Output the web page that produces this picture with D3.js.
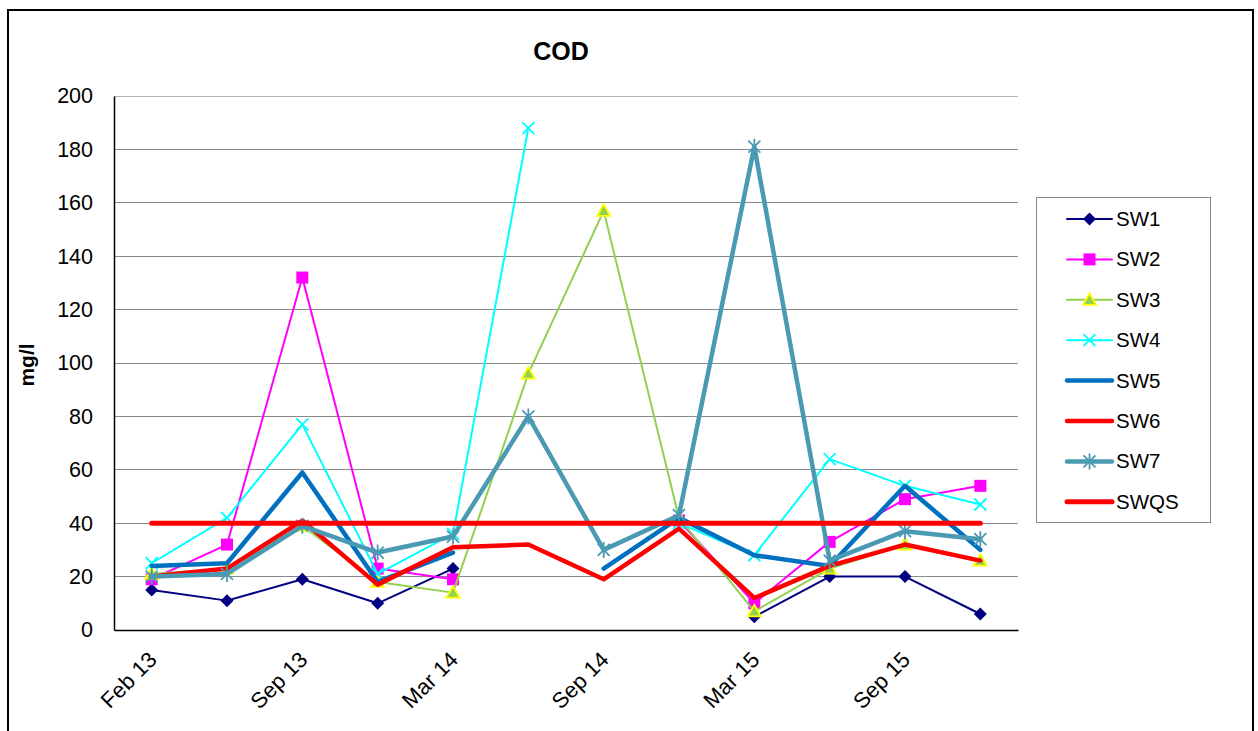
<!DOCTYPE html>
<html>
<head>
<meta charset="utf-8">
<script src="https://cdn.jsdelivr.net/npm/d3@7"></script>
<style>
  html, body { margin: 0; padding: 0; background: #fff; }
  svg { display: block; font-family: "Liberation Sans", Arial, Helvetica, sans-serif; }
</style>
</head>
<body>
<svg id="chart" width="1258" height="731"></svg>
<script>
// Sampling dates (quarterly), only every other one is labelled on the axis
const categories = ["Feb 13", "May 13", "Sep 13", "Dec 13", "Mar 14", "Jun 14",
                    "Sep 14", "Dec 14", "Mar 15", "Jun 15", "Sep 15", "Dec 15"];
const tickLabels = ["Feb 13", "Sep 13", "Mar 14", "Sep 14", "Mar 15", "Sep 15"];
const yTicks = [0, 20, 40, 60, 80, 100, 120, 140, 160, 180, 200];

// COD readings (mg/l) per station; null = no sample
const sw1  = [15, 11, 19, 10, 23, null, null, null, 5, 20, 20, 6];
const sw2  = [19, 32, 132, 23, 19, null, null, 41, 10, 33, 49, 54];
const sw3  = [21, 23, 39, 18, 14, 96, 157, 42, 7, 23, 32, 26];
const sw4  = [25, 42, 77, 21, 36, 188, null, 40, 28, 64, 54, 47];
const sw5  = [24, 25, 59, 18, 29, null, 23, 42, 28, 24, 54, 30];
const sw6  = [20, 23, 41, 17, 31, 32, 19, 38, 12, 24, 32, 26];
const sw7  = [20, 21, 39, 29, 35, 80, 30, 43, 181, 26, 37, 34];
const swqs = [40, 40, 40, 40, 40, 40, 40, 40, 40, 40, 40, 40];

const series = [
  { name: "SW1",  values: sw1,  color: "#000080", width: 2,   marker: "diamond" },
  { name: "SW2",  values: sw2,  color: "#FF00FF", width: 2,   marker: "square" },
  { name: "SW3",  values: sw3,  color: "#92D050", width: 2,   marker: "triangle" },
  { name: "SW4",  values: sw4,  color: "#00FFFF", width: 2,   marker: "x" },
  { name: "SW5",  values: sw5,  color: "#0070C0", width: 4.5, marker: null },
  { name: "SW6",  values: sw6,  color: "#FF0000", width: 4.5, marker: null },
  { name: "SW7",  values: sw7,  color: "#4A9AB3", width: 4.5, marker: "asterisk" },
  { name: "SWQS", values: swqs, color: "#FF0000", width: 5,   marker: null }
];

const svg = d3.select("#chart");

// outer chart frame
svg.append("rect")
  .attr("x", 8).attr("y", 10).attr("width", 1245).attr("height", 740)
  .attr("fill", "none").attr("stroke", "#000").attr("stroke-width", 2);

const plot = { left: 114, right: 1018, top: 96, bottom: 630 };

const x = d3.scalePoint().domain(categories)
  .range([plot.left, plot.right]).padding(0.5);
const y = d3.scaleLinear().domain([0, 200]).range([plot.bottom, plot.top]);

// horizontal gridlines
svg.append("g").selectAll("line").data(yTicks.filter(t => t > 0)).join("line")
  .attr("x1", plot.left).attr("x2", plot.right)
  .attr("y1", d => y(d)).attr("y2", d => y(d))
  .attr("stroke", d => d === 200 ? "#b4b4b4" : "#8a8a8a").attr("stroke-width", 1)
  .attr("shape-rendering", "crispEdges");

// y axis
const yAxis = svg.append("g")
  .attr("transform", `translate(${plot.left},0)`)
  .call(d3.axisLeft(y).tickValues(yTicks).tickSize(0).tickPadding(21));
yAxis.select(".domain").attr("stroke", "#000").attr("stroke-width", 1.5);
yAxis.selectAll("text").attr("font-size", 21.5).attr("fill", "#000")
  .attr("font-family", "Liberation Sans, Arial, sans-serif");

// x axis
const xAxis = svg.append("g")
  .attr("transform", `translate(0,${plot.bottom})`)
  .call(d3.axisBottom(x).tickSize(0).tickFormat(d => tickLabels.includes(d) ? d : ""));
xAxis.select(".domain").attr("stroke", "#000").attr("stroke-width", 1.5);
xAxis.selectAll("text")
  .attr("font-size", 22).attr("fill", "#000")
  .attr("font-family", "Liberation Sans, Arial, sans-serif")
  .attr("text-anchor", "end")
  .attr("dy", null).attr("y", null)
  .attr("transform", "translate(6,31) rotate(-45)");

// title and axis label
svg.append("text").attr("x", 561).attr("y", 60)
  .attr("text-anchor", "middle").attr("font-size", 25).attr("font-weight", "bold")
  .text("COD");
svg.append("text")
  .attr("transform", "translate(34,365) rotate(-90)")
  .attr("text-anchor", "middle").attr("font-size", 21).attr("font-weight", "bold")
  .text("mg/l");

// marker shapes
function drawMarker(g, type, color, cx, cy) {
  if (type === "diamond") {
    g.append("path")
      .attr("d", `M${cx},${cy - 6.5}L${cx + 6.5},${cy}L${cx},${cy + 6.5}L${cx - 6.5},${cy}Z`)
      .attr("fill", color);
  } else if (type === "square") {
    g.append("rect").attr("x", cx - 6).attr("y", cy - 6).attr("width", 12).attr("height", 12)
      .attr("fill", color);
  } else if (type === "triangle") {
    g.append("path")
      .attr("d", `M${cx},${cy - 6.5}L${cx + 6.5},${cy + 5}L${cx - 6.5},${cy + 5}Z`)
      .attr("fill", "#92D050").attr("stroke", "#FFFF00").attr("stroke-width", 1.8);
  } else if (type === "x") {
    g.append("path")
      .attr("d", `M${cx - 6},${cy - 6}L${cx + 6},${cy + 6}M${cx - 6},${cy + 6}L${cx + 6},${cy - 6}`)
      .attr("stroke", color).attr("stroke-width", 1.8).attr("fill", "none");
  } else if (type === "asterisk") {
    g.append("path")
      .attr("d", `M${cx - 6},${cy - 6}L${cx + 6},${cy + 6}M${cx - 6},${cy + 6}L${cx + 6},${cy - 6}M${cx},${cy - 8}L${cx},${cy + 8}`)
      .attr("stroke", color).attr("stroke-width", 1.8).attr("fill", "none");
  }
}

const line = d3.line()
  .defined(d => d.v !== null)
  .x(d => x(d.c)).y(d => y(d.v));

// series lines with markers
series.forEach(s => {
  const pts = s.values.map((v, i) => ({ c: categories[i], v }));
  const g = svg.append("g");
  g.append("path").datum(pts).attr("d", line)
    .attr("fill", "none").attr("stroke", s.color).attr("stroke-width", s.width)
    .attr("stroke-linejoin", "round").attr("stroke-linecap", "round");
  if (s.marker) {
    pts.filter(d => d.v !== null).forEach(d => drawMarker(g, s.marker, s.color, x(d.c), y(d.v)));
  }
});

// legend
const legend = svg.append("g");
legend.append("rect").attr("x", 1036.5).attr("y", 197.5).attr("width", 174).attr("height", 325)
  .attr("fill", "#fff").attr("stroke", "#8a8a8a").attr("stroke-width", 1);
series.forEach((s, i) => {
  const cy = 219 + i * 40.4;
  const g = legend.append("g");
  g.append("line").attr("x1", 1067).attr("x2", 1112).attr("y1", cy).attr("y2", cy)
    .attr("stroke", s.color).attr("stroke-width", s.width).attr("stroke-linecap", "round");
  if (s.marker) drawMarker(g, s.marker, s.color, 1089.5, cy);
  g.append("text").attr("x", 1116).attr("y", cy + 7).attr("font-size", 20.5).attr("fill", "#000")
    .text(s.name);
});
</script>
</body>
</html>
